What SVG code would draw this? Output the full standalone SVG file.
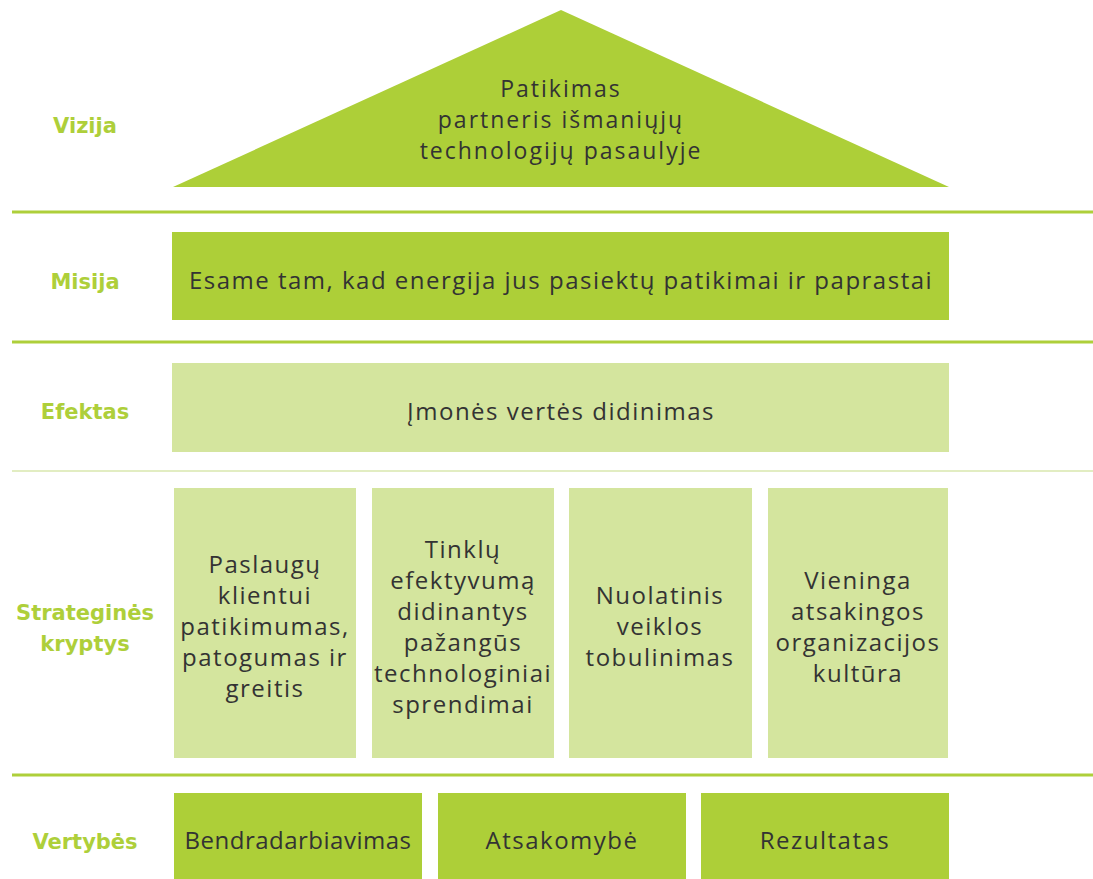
<svg xmlns="http://www.w3.org/2000/svg" width="1093" height="879" viewBox="0 0 1093 879">
<style>
.lbl{font-family:"DejaVu Sans","Liberation Sans",sans-serif;font-weight:bold;font-size:21px;fill:#AECF3A;text-anchor:middle}
.t{font-family:"Open Sans","Liberation Sans",sans-serif;font-size:24px;letter-spacing:1.5px;fill:#333333;text-anchor:middle}
.tv{font-family:"Open Sans","Liberation Sans",sans-serif;font-size:23px;letter-spacing:2px;fill:#333333;text-anchor:middle}
.dark{fill:#ADCF38}
.light{fill:#D4E59E}
.sep{stroke:#AECF3A;stroke-width:3}
</style>
<rect width="1093" height="879" fill="#ffffff"/>
<g id="separators">
<line class="sep" x1="12" y1="212" x2="1093" y2="212"/>
<line class="sep" x1="12" y1="342" x2="1093" y2="342"/>
<line x1="12" y1="471" x2="1093" y2="471" stroke="#E2EDC2" stroke-width="2"/>
<line class="sep" x1="12" y1="775" x2="1093" y2="775"/>
</g>
<g id="labels">
<text class="lbl" x="85" y="133">Vizija</text>
<text class="lbl" x="85" y="289">Misija</text>
<text class="lbl" x="85" y="419">Efektas</text>
<text class="lbl" x="85" y="620">Strateginės</text>
<text class="lbl" x="85" y="651">kryptys</text>
<text class="lbl" x="85" y="849">Vertybės</text>
</g>
<g id="vizija">
<polygon class="dark" points="561,10 949,187 173,187"/>
<text class="tv" x="561" y="97">Patikimas</text>
<text class="tv" x="561" y="128">partneris išmaniųjų</text>
<text class="tv" x="561" y="159">technologijų pasaulyje</text>
</g>
<g id="misija">
<rect class="dark" x="172" y="232" width="777" height="88"/>
<text class="t" x="561" y="289">Esame tam, kad energija jus pasiektų patikimai ir paprastai</text>
</g>
<g id="efektas">
<rect class="light" x="172" y="363" width="777" height="89"/>
<text class="t" x="561" y="420">Įmonės vertės didinimas</text>
</g>
<g id="kryptis1">
<rect class="light" x="174" y="488" width="182" height="270"/>
<text class="t" x="265" y="573">Paslaugų</text>
<text class="t" x="265" y="604">klientui</text>
<text class="t" x="265" y="635">patikimumas,</text>
<text class="t" x="265" y="666">patogumas ir</text>
<text class="t" x="265" y="697">greitis</text>
</g>
<g id="kryptis2">
<rect class="light" x="372" y="488" width="182" height="270"/>
<text class="t" x="463" y="558">Tinklų</text>
<text class="t" x="463" y="589">efektyvumą</text>
<text class="t" x="463" y="620">didinantys</text>
<text class="t" x="463" y="651">pažangūs</text>
<text class="t" x="463" y="682">technologiniai</text>
<text class="t" x="463" y="713">sprendimai</text>
</g>
<g id="kryptis3">
<rect class="light" x="569" y="488" width="183" height="270"/>
<text class="t" x="660" y="604">Nuolatinis</text>
<text class="t" x="660" y="635">veiklos</text>
<text class="t" x="660" y="666">tobulinimas</text>
</g>
<g id="kryptis4">
<rect class="light" x="768" y="488" width="180" height="270"/>
<text class="t" x="858" y="589">Vieninga</text>
<text class="t" x="858" y="620">atsakingos</text>
<text class="t" x="858" y="651">organizacijos</text>
<text class="t" x="858" y="682">kultūra</text>
</g>
<g id="vertybe1">
<rect class="dark" x="174" y="793" width="248" height="86"/>
<text class="t" x="298" y="849" style="letter-spacing:0.5px">Bendradarbiavimas</text>
</g>
<g id="vertybe2">
<rect class="dark" x="438" y="793" width="248" height="86"/>
<text class="t" x="562" y="849">Atsakomybė</text>
</g>
<g id="vertybe3">
<rect class="dark" x="701" y="793" width="248" height="86"/>
<text class="t" x="825" y="849">Rezultatas</text>
</g>
</svg>
